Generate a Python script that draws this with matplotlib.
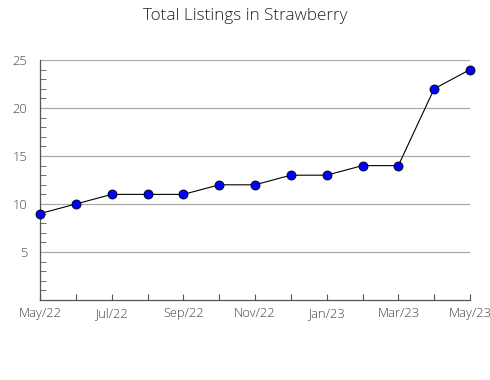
import matplotlib
matplotlib.use('Agg')
import matplotlib.pyplot as plt
from matplotlib.ticker import MultipleLocator

plt.rcParams['font.family'] = ['Open Sans', 'DejaVu Sans']
plt.rcParams['font.weight'] = 'light'

months = ['May/22', 'Jun/22', 'Jul/22', 'Aug/22', 'Sep/22', 'Oct/22', 'Nov/22',
          'Dec/22', 'Jan/23', 'Feb/23', 'Mar/23', 'Apr/23', 'May/23']
listings = [9, 10, 11, 11, 11, 12, 12, 13, 13, 14, 14, 22, 24]

fig = plt.figure(figsize=(4.9, 3.8), dpi=100)
ax = fig.add_axes([40/490, 80/380, 430/490, 240/380])

x = list(range(len(months)))
ax.plot(x, listings, color='black', lw=0.8, marker='o', ms=6.5,
        markerfacecolor='#0000ff', markeredgecolor='black', markeredgewidth=0.6,
        zorder=3, clip_on=False)

ax.set_xlim(0, len(months) - 1)
ax.set_ylim(0, 25)
ax.set_yticks([5, 10, 15, 20, 25])
ax.yaxis.set_minor_locator(MultipleLocator(1))
ax.set_xticks(x)
ax.set_xticklabels([m if i % 2 == 0 else '' for i, m in enumerate(months)])

ax.grid(axis='y', color='#aaaaaa', lw=0.9)
ax.set_axisbelow(True)
for s in ['top', 'right']:
    ax.spines[s].set_visible(False)
for s in ['left', 'bottom']:
    ax.spines[s].set_color('#555555')
    ax.spines[s].set_linewidth(0.9)

ax.tick_params(axis='both', which='both', direction='in', colors='#555555',
               labelcolor='#444444', labelsize=9.3)
ax.tick_params(axis='y', which='major', length=0, pad=9)
ax.tick_params(axis='y', which='minor', length=4)
ax.tick_params(axis='x', which='major', length=4, pad=5)

fig.text(0.5, 1 - 16/380, 'Total Listings in Strawberry', ha='center', va='center',
         fontsize=12.3, color='#222222')

fig.savefig('out.png', dpi=100)
